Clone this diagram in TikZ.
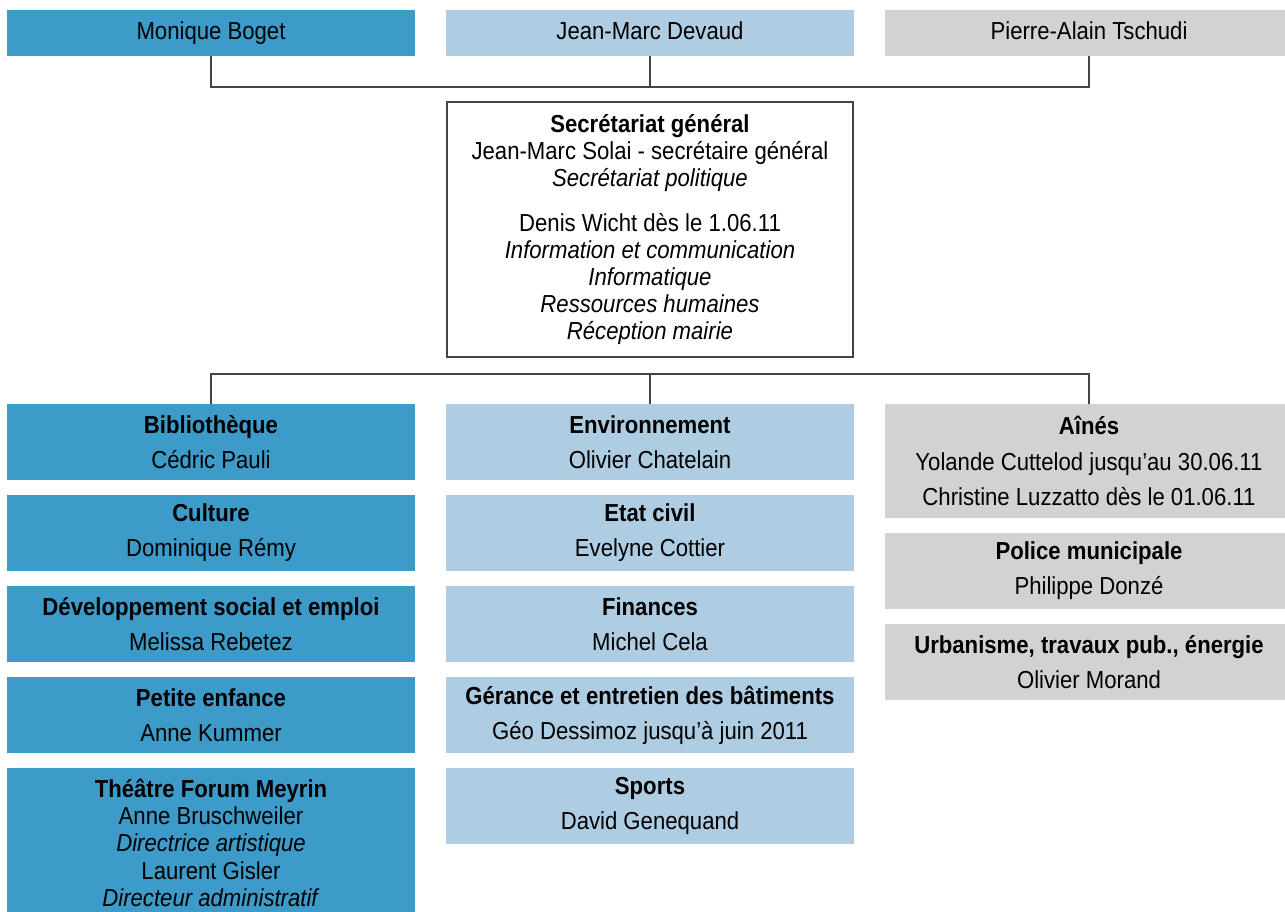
\documentclass[tikz,border=0pt]{standalone}
\usepackage{fontspec}
\setmainfont[FakeStretch=0.9]{Liberation Sans}
\usepackage{tikz}
\usetikzlibrary{positioning}

\definecolor{bleufonce}{HTML}{3D9BC9}
\definecolor{bleuclair}{HTML}{AECDE2}
\definecolor{grisclair}{HTML}{D1D2D4}
\definecolor{trait}{HTML}{444444}

\tikzset{
  chef/.style={minimum width=8.16cm, minimum height=0.92cm, inner sep=0pt, outer sep=0pt,
    text height=10pt, text depth=3pt, font=\fontsize{14}{16}\selectfont},
  service/.style={minimum width=8.16cm, minimum height=1.52cm, inner sep=0pt, outer sep=0pt,
    align=center, font=\fontsize{14}{20}\selectfont},
  secr/.style={draw=trait, line width=1.1pt, minimum width=8.12cm, minimum height=5.1cm,
    inner sep=0pt, align=center, font=\fontsize{14}{15.4}\selectfont},
  lien/.style={draw=trait, line width=1.1pt}
}

\begin{document}
\begin{tikzpicture}[x=0.02cm, y=-0.02cm, node distance=0.3cm]
\useasboundingbox (0,0) rectangle (1285,912);
% conseillers administratifs
\node[chef, fill=bleufonce] (boget) at (211,33) {Monique Boget};
\node[chef, fill=bleuclair] (devaud) at (650,33) {Jean-Marc Devaud};
\node[chef, fill=grisclair] (tschudi) at (1089,33) {Pierre-Alain Tschudi};
\coordinate (bushaut) at (650,87);
\draw[lien] (boget.south) |- (bushaut) -| (tschudi.south);
\draw[lien] (devaud.south) -- (bushaut);

\node[secr] (secretariat) at (650,229.5) {\textbf{Secrétariat général}\\
  Jean-Marc Solai - secrétaire général\\ \textit{Secrétariat politique}\\[0.36cm]
  Denis Wicht dès le 1.06.11\\ \textit{Information et communication}\\
  \textit{Informatique}\\ \textit{Ressources humaines}\\ \textit{Réception mairie}};

% services
\node[service, fill=bleufonce, anchor=north] (biblio) at (211,404) {\textbf{Bibliothèque}\\ Cédric Pauli};
\node[service, fill=bleufonce, below=of biblio] (culture) {\textbf{Culture}\\ Dominique Rémy};
\node[service, fill=bleufonce, below=of culture] (social) {\textbf{Développement social et emploi}\\ Melissa Rebetez};
\node[service, fill=bleufonce, below=of social] (enfance) {\textbf{Petite enfance}\\ Anne Kummer};
\node[service, fill=bleufonce, below=of enfance, minimum height=3.0cm,
  font=\fontsize{14}{15.4}\selectfont] (theatre) {\textbf{Théâtre Forum Meyrin}\\ Anne Bruschweiler\\
  \textit{Directrice artistique}\\ Laurent Gisler\\ \textit{Directeur administratif}};

\node[service, fill=bleuclair, anchor=north] (environnement) at (650,404) {\textbf{Environnement}\\ Olivier Chatelain};
\node[service, fill=bleuclair, below=of environnement] (etatcivil) {\textbf{Etat civil}\\ Evelyne Cottier};
\node[service, fill=bleuclair, below=of etatcivil] (finances) {\textbf{Finances}\\ Michel Cela};
\node[service, fill=bleuclair, below=of finances] (gerance) {\textbf{Gérance et entretien des bâtiments}\\ Géo Dessimoz jusqu’à juin 2011};
\node[service, fill=bleuclair, below=of gerance] (sports) {\textbf{Sports}\\ David Genequand};

\node[service, fill=grisclair, anchor=north, minimum height=2.28cm] (aines) at (1089,404)
  {\textbf{Aînés}\\ Yolande Cuttelod jusqu’au 30.06.11\\ Christine Luzzatto dès le 01.06.11};
\node[service, fill=grisclair, below=of aines] (police) {\textbf{Police municipale}\\ Philippe Donzé};
\node[service, fill=grisclair, below=of police] (urbanisme) {\textbf{Urbanisme, travaux pub., énergie}\\ Olivier Morand};

\coordinate (busbas) at (650,374);
\draw[lien] (biblio.north) |- (busbas) -| (aines.north);
\draw[lien] (busbas) -- (environnement.north);
\end{tikzpicture}
\end{document}
